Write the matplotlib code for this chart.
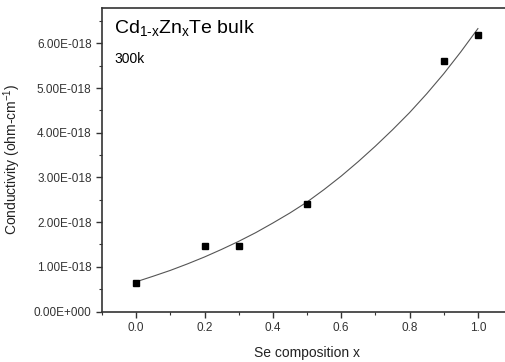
import matplotlib
matplotlib.use("Agg")
import matplotlib.pyplot as plt
from matplotlib.ticker import FuncFormatter, MultipleLocator

plt.rcParams['font.family'] = ['Liberation Sans', 'DejaVu Sans']
plt.rcParams['mathtext.fontset'] = 'custom'
plt.rcParams['mathtext.rm'] = 'Liberation Sans'
plt.rcParams['mathtext.it'] = 'Liberation Sans'

# measured points
composition = [0.0, 0.2, 0.3, 0.5, 0.9, 1.0]
conductivity = [0.63e-18, 1.46e-18, 1.46e-18, 2.41e-18, 5.61e-18, 6.19e-18]

# fitted curve
fit_x = [0.0, 0.05, 0.1, 0.15, 0.2, 0.25, 0.3, 0.35, 0.4, 0.45, 0.5,
         0.55, 0.6, 0.65, 0.7, 0.75, 0.8, 0.85, 0.9, 0.95, 1.0]
fit_y = [0.665e-18, 0.79e-18, 0.92e-18, 1.065e-18, 1.22e-18, 1.39e-18,
         1.57e-18, 1.765e-18, 1.98e-18, 2.205e-18, 2.45e-18, 2.73e-18,
         3.03e-18, 3.355e-18, 3.70e-18, 4.065e-18, 4.45e-18, 4.87e-18,
         5.32e-18, 5.81e-18, 6.33e-18]


def sciLabel(v, pos):
    if v == 0:
        return "0.00E+000"
    mant, exp = f"{v:.2E}".split("E")
    e = int(exp)
    sign = "-" if e < 0 else "+"
    return f"{mant}E{sign}{abs(e):03d}"


fig = plt.figure(figsize=(5.06, 3.62), dpi=100)
ax = fig.add_axes([0.2016, 0.1395, 0.8104, 0.8395])

ax.plot(fit_x, fit_y, color='#555555', linewidth=0.8)
ax.plot(composition, conductivity, linestyle='none', marker='s', markersize=5,
        color='black')

ax.set_xlim(-0.1, 1.1)
ax.set_ylim(0, 6.8e-18)
ax.xaxis.set_major_locator(MultipleLocator(0.2))
ax.xaxis.set_minor_locator(MultipleLocator(0.1))
ax.yaxis.set_major_locator(MultipleLocator(1e-18))
ax.yaxis.set_minor_locator(MultipleLocator(0.5e-18))
ax.yaxis.set_major_formatter(FuncFormatter(sciLabel))
ax.xaxis.set_major_formatter(FuncFormatter(lambda v, p: f"{v:.1f}"))
ax.xaxis.offsetText.set_visible(False)
ax.yaxis.offsetText.set_visible(False)
ax.title.set_visible(False)

ax.tick_params(which='both', direction='out', colors='#333333', labelsize=8.5)
ax.tick_params(which='major', length=4, width=1)
ax.tick_params(which='minor', length=2.5, width=0.8)
for s in ax.spines.values():
    s.set_color('#333333')
    s.set_linewidth(1.2)

ax.set_xlabel("Se composition x", fontsize=10, color='#222222', labelpad=9)
ax.set_ylabel("Conductivity (ohm-cm$^{-1}$)", fontsize=10, color='#222222', labelpad=8)

ax.text(0.03, 0.965, r"Cd$_{\mathregular{1\text{-}x}}$Zn$_{\mathregular{x}}$Te bulk",
        transform=ax.transAxes, fontsize=14, va='top', ha='left')
ax.text(0.03, 0.855, "300k", transform=ax.transAxes, fontsize=10,
        va='top', ha='left')

fig.savefig("out.png", dpi=100)
